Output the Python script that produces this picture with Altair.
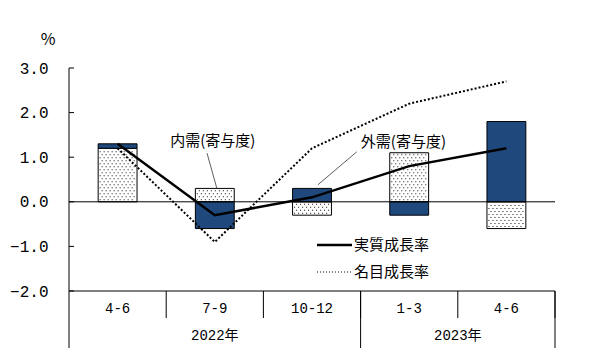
import altair as alt
import pandas as pd
import numpy as np

# ---- data ----
categories = ["4-6", "7-9", "10-12", "1-3", "4-6"]
year_of_cat = ["2022年", "2022年", "2022年", "2023年", "2023年"]
domestic = [1.2, 0.3, -0.3, 1.1, -0.6]      # 内需(寄与度)
external = [0.1, -0.6, 0.3, -0.3, 1.8]      # 外需(寄与度)
real_growth = [1.3, -0.3, 0.1, 0.8, 1.2]    # 実質成長率
nominal_growth = [1.2, -0.9, 1.2, 2.2, 2.7] # 名目成長率
y_ticks = [-2, -1, 0, 1, 2, 3]

W, H = 486, 223
n = len(categories)
xdom = [-0.5, n - 0.5]
ydom = [-2, 3]
px_x = W / (xdom[1] - xdom[0])
px_y = H / (ydom[1] - ydom[0])
half_bar = 0.2

FONT = "Noto Sans CJK JP"
MONO = "Liberation Mono, Noto Sans CJK JP"
BLUE = "#1F497D"

# stacked segments (positives up, negatives down)
rows = []
for i, (d, e) in enumerate(zip(domestic, external)):
    rows.append(dict(series="内需", x0=i - half_bar, x1=i + half_bar, y0=0.0, y1=d))
    if np.sign(d) == np.sign(e):
        rows.append(dict(series="外需", x0=i - half_bar, x1=i + half_bar, y0=d, y1=d + e))
    else:
        rows.append(dict(series="外需", x0=i - half_bar, x1=i + half_bar, y0=0.0, y1=e))
bars = pd.DataFrame(rows)

# dot texture for domestic segments
dots = []
for r in rows:
    if r["series"] != "内需":
        continue
    lo, hi = sorted([r["y0"], r["y1"]])
    ys = np.arange(lo + 2 / px_y, hi - 1 / px_y, 3 / px_y)
    for k, yv in enumerate(ys):
        off = 2 if k % 2 else 0
        xs = np.arange(r["x0"] + (2 + off) / px_x, r["x1"] - 1.5 / px_x, 4 / px_x)
        for xv in xs:
            dots.append(dict(x=xv, y=yv))
dots = pd.DataFrame(dots)

lines = pd.DataFrame(dict(i=list(range(n)) * 2,
                          v=real_growth + nominal_growth,
                          s=["実質"] * n + ["名目"] * n))

cats = pd.DataFrame(dict(i=range(n), label=categories, year=year_of_cat))
years = cats.groupby("year", sort=False)["i"].mean().reset_index()

# dividers in the category table
div = []
for i in range(n - 1):
    same = year_of_cat[i] == year_of_cat[i + 1]
    div.append(dict(x=i + 0.5, long=not same))
div.append(dict(x=n - 0.5, long=True))
div = pd.DataFrame(div)

xs = alt.Scale(domain=xdom, nice=False, zero=False)
ysc = alt.Scale(domain=ydom, nice=False, zero=False)

bar_layer = alt.Chart(bars).mark_rect(stroke="black", strokeWidth=1).encode(
    x=alt.X("x0:Q", scale=xs, axis=None), x2="x1",
    y=alt.Y("y0:Q", scale=ysc, axis=alt.Axis(values=y_ticks, format=".1f", tickSize=0, domain=False,
                                             grid=False, title=None, labelFont=MONO, labelFontSize=16,
                                             labelColor="black", labelPadding=21)),
    y2="y1",
    fill=alt.Fill("series:N", scale=alt.Scale(domain=["内需", "外需"], range=["white", BLUE]), legend=None),
)

dot_layer = alt.Chart(dots).mark_square(size=1.2, color="black", opacity=0.85).encode(
    x=alt.X("x:Q", scale=xs), y=alt.Y("y:Q", scale=ysc))

zero = alt.Chart(pd.DataFrame(dict(y=[0, -2]))).mark_rule(color="black", strokeWidth=1).encode(
    x=alt.value(0), x2=alt.value(W), y=alt.Y("y:Q", scale=ysc))

yaxis_line = alt.Chart(pd.DataFrame(dict(a=[0]))).mark_rule(color="black", strokeWidth=1).encode(
    x=alt.value(0), y=alt.value(0), y2=alt.value(280))

ytick_layer = alt.Chart(pd.DataFrame(dict(y=y_ticks))).mark_rule(color="black", strokeWidth=1).encode(
    x=alt.value(0), x2=alt.value(5), y=alt.Y("y:Q", scale=ysc))

real_line = alt.Chart(lines[lines.s == "実質"]).mark_line(color="black", strokeWidth=2.5).encode(
    x=alt.X("i:Q", scale=xs), y=alt.Y("v:Q", scale=ysc))
nom_line = alt.Chart(lines[lines.s == "名目"]).mark_line(color="black", strokeWidth=2, strokeDash=[2, 2]).encode(
    x=alt.X("i:Q", scale=xs), y=alt.Y("v:Q", scale=ysc))

div_layer = alt.Chart(div).mark_rule(color="black", strokeWidth=1).encode(
    x=alt.X("x:Q", scale=xs), y=alt.value(H), y2=alt.value(250))
div_long = alt.Chart(div[div.long]).mark_rule(color="black", strokeWidth=1).encode(
    x=alt.X("x:Q", scale=xs), y=alt.value(H), y2=alt.value(280))

cat_text = alt.Chart(cats).mark_text(font=MONO, fontSize=14, color="black", baseline="middle").encode(
    x=alt.X("i:Q", scale=xs), y=alt.value(241), text="label:N")
year_text = alt.Chart(years).mark_text(font=MONO, fontSize=14, color="black", baseline="middle").encode(
    x=alt.X("i:Q", scale=xs), y=alt.value(268), text="year:N")

pct = alt.Chart(pd.DataFrame(dict(t=["%"]))).mark_text(font=FONT, fontSize=16, color="black",
                                                        baseline="middle").encode(
    x=alt.value(-21), y=alt.value(-28), text="t:N")

ann = pd.DataFrame(dict(x=[0.98, 2.94], y=[1.37, 1.34], t=["内需(寄与度)", "外需(寄与度)"]))
ann_text = alt.Chart(ann).mark_text(font=FONT, fontSize=15, color="black", baseline="middle").encode(
    x=alt.X("x:Q", scale=xs), y=alt.Y("y:Q", scale=ysc), text="t:N")
lead = pd.DataFrame(dict(x=[0.92, 2.46], y=[1.09, 1.12], x2=[1.02, 2.06], y2=[0.31, 0.38]))
lead_layer = alt.Chart(lead).mark_rule(color="#333333", strokeWidth=0.8).encode(
    x=alt.X("x:Q", scale=xs), y=alt.Y("y:Q", scale=ysc), x2="x2", y2="y2")

leg = pd.DataFrame(dict(t=["実質成長率", "名目成長率"], yy=[177, 204]))
leg_real = alt.Chart(leg.iloc[[0]]).mark_rule(color="black", strokeWidth=2.5).encode(
    x=alt.value(248), x2=alt.value(283), y=alt.value(177))
leg_nom = alt.Chart(leg.iloc[[1]]).mark_rule(color="black", strokeWidth=1, strokeDash=[1, 2]).encode(
    x=alt.value(248), x2=alt.value(283), y=alt.value(204))
leg_text = alt.Chart(leg).mark_text(font=FONT, fontSize=15, color="black", align="left", baseline="middle").encode(
    x=alt.value(285), y=alt.Y("yy:Q", scale=None), text="t:N")

chart = alt.layer(
    bar_layer, dot_layer, zero, yaxis_line, ytick_layer, div_layer, div_long,
    real_line, nom_line, cat_text, year_text, pct, ann_text, lead_layer,
    leg_real, leg_nom, leg_text,
).properties(
    width=W, height=H,
    padding={"left": 61, "top": 60, "right": 43, "bottom": 62},
    autosize=alt.AutoSizeParams(type="none"),
).configure_view(stroke=None)

chart.save("out.html", embed_options={"renderer": "svg", "actions": False})
